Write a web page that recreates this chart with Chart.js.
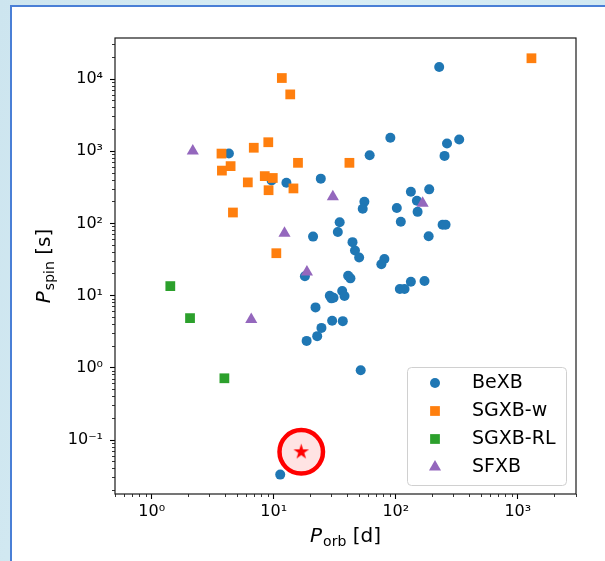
<!DOCTYPE html>
<html>
<head>
<meta charset="utf-8">
<script src="https://cdn.jsdelivr.net/npm/chart.js@4/dist/chart.umd.min.js"></script>
<style>
  html, body { margin: 0; padding: 0; }
  body {
    width: 605px; height: 561px; overflow: hidden; position: relative;
    background: linear-gradient(100deg, #cde5ef 0%, #d9eef5 45%, #cfe7f1 100%);
  }
  #panel {
    position: absolute; left: 10px; top: 5px; width: 640px; height: 600px;
    background: #ffffff; box-sizing: border-box;
    border-left: 2.5px solid #4a7fd6; border-top: 2.5px solid #4a7fd6;
  }
  #chart { position: absolute; left: 0; top: 0; }
</style>
</head>
<body>
<div id="panel"></div>
<canvas id="chart" width="605" height="561"></canvas>
<script>
// Orbital period P_orb [d] and spin period P_spin [s] for each class of binary
const bexbPorb = [227, 90.3, 263, 331, 251, 61.1, 4.29, 9.6, 12.7, 24.3, 133, 188, 55.3, 53.6, 102,
  149, 151, 34.7, 33.5, 110, 242, 256, 186, 21.0, 44.2, 46.3, 50.1, 80.7, 76.2, 18.0,
  40.7, 42.5, 108, 118, 133, 172, 36.4, 38.0, 28.8, 29.7, 30.9, 22.0, 30.1, 36.8, 24.6,
  22.7, 18.6, 51.6, 11.3];
const bexbPspin = [14700, 1535, 1280, 1455, 863, 880, 929, 395, 367, 418, 275, 297, 200, 160, 164,
  207, 145, 104, 76.2, 106, 96, 96, 66.8, 65.9, 55.2, 42.2, 33.9, 32.3, 27.3, 18.6,
  18.9, 17.4, 12.4, 12.4, 15.6, 16.0, 11.6, 9.9, 10.0, 9.2, 9.4, 6.9, 4.5, 4.45, 3.59,
  2.76, 2.37, 0.93, 0.0334];

const sgxbWPorb = [11.65, 13.65, 1294, 9.02, 6.86, 3.73, 4.43, 3.76, 15.8, 41.7, 8.44, 9.82, 6.13, 14.5, 9.07, 4.63, 10.5];
const sgxbWPspin = [10330, 6130, 19400, 1334, 1119, 929, 623, 540, 692, 692, 453, 427, 371, 306, 289, 142, 38.8];

const sgxbRLPorb = [1.42, 2.06, 3.94];
const sgxbRLPspin = [13.6, 4.9, 0.72];

const sfxbPorb = [2.17, 30.5, 12.25, 18.7, 6.54, 166];
const sfxbPspin = [1007, 235, 73.1, 21.3, 4.7, 191];

// highlighted source
const starPorb = [16.8];
const starPspin = [0.069];

// axis limits and labelled decades
const xLimits = [0.5, 3000];
const yLimits = [0.018, 37000];
const xMajorTicks = [1, 10, 100, 1000];
const xTickLabels = ['10\u2070', '10\u00b9', '10\u00b2', '10\u00b3'];
const yMajorTicks = [0.1, 1, 10, 100, 1000, 10000];
const yTickLabels = ['10\u207b\u00b9', '10\u2070', '10\u00b9', '10\u00b2', '10\u00b3', '10\u2074'];

const FONT = '"DejaVu Sans", "Liberation Sans", sans-serif';

function toPoints(xs, ys) { return xs.map((x, i) => ({ x: x, y: ys[i] })); }

// 1..9 x 10^n ticks inside the limits
function logTickValues(lo, hi) {
  const out = [];
  for (let e = Math.floor(Math.log10(lo)); e <= Math.ceil(Math.log10(hi)); e++) {
    for (let m = 1; m <= 9; m++) {
      const v = parseFloat((m * Math.pow(10, e)).toPrecision(6));
      if (v >= lo * 0.9999 && v <= hi * 1.0001) out.push(v);
    }
  }
  return out;
}
function isDecade(v) {
  const l = Math.log10(v);
  return Math.abs(l - Math.round(l)) < 1e-9;
}

function makeStar(R, color) {
  const size = Math.ceil(2 * R + 2);
  const c = document.createElement('canvas');
  c.width = size; c.height = size;
  const g = c.getContext('2d');
  g.fillStyle = color;
  g.beginPath();
  const cx = size / 2, cy = size / 2, r = R * 0.381966;
  for (let k = 0; k < 10; k++) {
    const a = -Math.PI / 2 + k * Math.PI / 5;
    const rr = (k % 2) ? r : R;
    g.lineTo(cx + rr * Math.cos(a), cy + rr * Math.sin(a));
  }
  g.closePath();
  g.fill();
  return c;
}

function axisOptions(limits, majors, labels, isX) {
  return {
    type: 'logarithmic',
    position: isX ? 'bottom' : 'left',
    min: limits[0],
    max: limits[1],
    afterBuildTicks: (scale) => {
      scale.ticks = logTickValues(limits[0], limits[1]).map(v => ({ value: v, major: isDecade(v) }));
    },
    afterFit: (scale) => {
      if (isX) scale.height = 67; else scale.width = 115;
    },
    border: { display: false },
    grid: {
      display: true,
      drawOnChartArea: false,
      drawTicks: true,
      tickLength: 5,
      tickColor: '#000',
      tickWidth: (c) => (c.tick && isDecade(c.tick.value)) ? 1.1 : 0.8,
      // minor ticks: only the 3px next to the spine
      tickBorderDash: (c) => (c.tick && isDecade(c.tick.value)) ? [] : (isX ? [3, 20] : [0, 2, 3, 20])
    },
    ticks: {
      autoSkip: false,
      maxRotation: 0,
      minRotation: 0,
      padding: isX ? 3 : 7,
      color: '#000',
      font: { family: FONT, size: 16 },
      callback: (v) => {
        const i = majors.findIndex(m => Math.abs(Math.log10(m) - Math.log10(v)) < 1e-9);
        return i >= 0 ? labels[i] : '';
      }
    }
  };
}

// frame around the plotting area
const framePlugin = {
  id: 'frame',
  afterDraw(chart) {
    const { ctx, chartArea: a } = chart;
    ctx.save();
    ctx.strokeStyle = '#1a1a1a';
    ctx.lineWidth = 1.2;
    ctx.strokeRect(a.left, a.top, a.right - a.left, a.bottom - a.top);
    ctx.restore();
  }
};

// axis titles with italic P and roman subscript
function drawMathLabel(ctx, x, y, main, sub, tail, size) {
  const mainFont = 'oblique ' + size + 'px ' + FONT;
  const subFont = Math.round(size * 0.7) + 'px ' + FONT;
  const tailFont = size + 'px ' + FONT;
  ctx.font = mainFont; const w1 = ctx.measureText(main).width + 1;
  ctx.font = subFont; const w2 = ctx.measureText(sub).width;
  ctx.font = tailFont; const w3 = ctx.measureText(tail).width;
  let cx = x - (w1 + w2 + w3) / 2;
  ctx.textBaseline = 'alphabetic';
  ctx.textAlign = 'left';
  ctx.font = mainFont; ctx.fillText(main, cx, y); cx += w1;
  ctx.font = subFont; ctx.fillText(sub, cx, y + size * 0.2); cx += w2;
  ctx.font = tailFont; ctx.fillText(tail, cx, y);
}
const titlePlugin = {
  id: 'axisTitles',
  afterDraw(chart) {
    const { ctx, chartArea: a } = chart;
    ctx.save();
    ctx.fillStyle = '#000';
    drawMathLabel(ctx, (a.left + a.right) / 2, a.bottom + 48, 'P', 'orb', ' [d]', 20);
    ctx.translate(a.left - 65, (a.top + a.bottom) / 2);
    ctx.rotate(-Math.PI / 2);
    drawMathLabel(ctx, 0, 0, 'P', 'spin', ' [s]', 20);
    ctx.restore();
  }
};

// legend in the lower right corner of the plotting area
const insetLegend = {
  id: 'insetLegend',
  afterDraw(chart) {
    const { ctx, chartArea: a } = chart;
    const items = chart.data.datasets.filter(d => d.inLegend);
    const w = 159, h = 118, rowH = 28;
    const x0 = a.right - 10 - w, y0 = a.bottom - 9 - h;
    ctx.save();
    ctx.beginPath();
    if (ctx.roundRect) ctx.roundRect(x0 + 0.5, y0 + 0.5, w, h, 4); else ctx.rect(x0 + 0.5, y0 + 0.5, w, h);
    ctx.fillStyle = 'rgba(255,255,255,0.8)';
    ctx.fill();
    ctx.strokeStyle = '#d0d0d0';
    ctx.lineWidth = 1;
    ctx.stroke();
    items.forEach((d, i) => {
      const cy = y0 + 16 + i * rowH;
      ctx.fillStyle = d.backgroundColor;
      ctx.strokeStyle = d.backgroundColor;
      Chart.helpers.drawPoint(ctx, { pointStyle: d.pointStyle, radius: d.pointRadius, borderWidth: 0, rotation: 0 }, x0 + 28, cy);
      ctx.fillStyle = '#000';
      ctx.font = '19px ' + FONT;
      ctx.textAlign = 'left';
      ctx.textBaseline = 'middle';
      ctx.fillText(d.label, x0 + 65, cy);
    });
    ctx.restore();
  }
};

const starImage = makeStar(8.2, '#ff0000');

new Chart(document.getElementById('chart'), {
  type: 'scatter',
  data: {
    datasets: [
      { label: 'BeXB', inLegend: true, order: 6, data: toPoints(bexbPorb, bexbPspin),
        pointStyle: 'circle', pointRadius: 5, backgroundColor: '#1f77b4', borderWidth: 0 },
      { label: 'SGXB-w', inLegend: true, order: 5, data: toPoints(sgxbWPorb, sgxbWPspin),
        pointStyle: 'rect', pointRadius: 6.9, backgroundColor: '#ff7f0e', borderWidth: 0 },
      { label: 'SGXB-RL', inLegend: true, order: 4, data: toPoints(sgxbRLPorb, sgxbRLPspin),
        pointStyle: 'rect', pointRadius: 6.9, backgroundColor: '#2ca02c', borderWidth: 0 },
      { label: 'SFXB', inLegend: true, order: 3, data: toPoints(sfxbPorb, sfxbPspin),
        pointStyle: 'triangle', pointRadius: 7, backgroundColor: '#9467bd', borderWidth: 0 },
      { label: 'ring', inLegend: false, order: 2, data: toPoints(starPorb, starPspin),
        pointStyle: 'circle', pointRadius: 21.75, backgroundColor: 'rgba(255,0,0,0.11)',
        borderColor: '#ff0000', borderWidth: 4.5 },
      { label: 'source', inLegend: false, order: 1, data: toPoints(starPorb, starPspin),
        pointStyle: starImage, pointRadius: 8, backgroundColor: '#ff0000' }
    ]
  },
  options: {
    responsive: false,
    animation: false,
    devicePixelRatio: 1,
    layout: { padding: { left: 0, top: 38, right: 29, bottom: 0 } },
    plugins: { legend: { display: false }, tooltip: { enabled: false } },
    events: [],
    scales: {
      x: axisOptions(xLimits, xMajorTicks, xTickLabels, true),
      y: axisOptions(yLimits, yMajorTicks, yTickLabels, false)
    }
  },
  plugins: [framePlugin, titlePlugin, insetLegend]
});
</script>
</body>
</html>
